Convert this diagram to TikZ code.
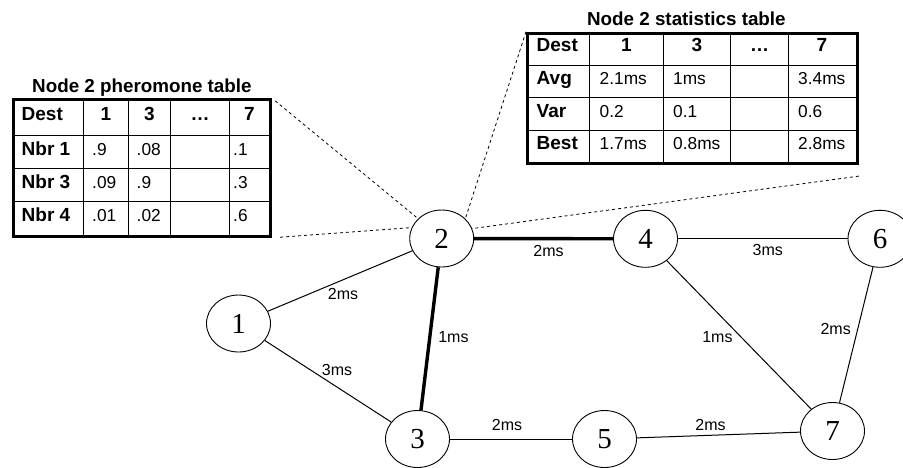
\documentclass[tikz,border=0pt]{standalone}
\usepackage{fontspec}
\setmainfont{Liberation Sans}
\newfontfamily\numfont{Liberation Serif}
\usetikzlibrary{positioning, shapes.geometric}

\begin{document}
\begin{tikzpicture}[x=1pt, y=-1pt,
  router/.style={draw, ellipse, line width=0.9pt, minimum width=64pt, minimum height=57pt, inner sep=0pt, font=\numfont\fontsize{29}{31}\selectfont},
  link/.style={line width=1pt},
  busy/.style={line width=3.4pt},
  delay/.style={font=\fontsize{16}{18}\selectfont, inner sep=2pt, text height=0.72em, text depth=0pt},
  tframe/.style={draw, line width=2.8pt, inner sep=0pt, anchor=north west},
  rule/.style={line width=0.9pt},
  head/.style={font=\bfseries\fontsize{19}{21}\selectfont, inner sep=1pt, text height=0.72em, text depth=0pt},
  entry/.style={font=\fontsize{17.3}{19}\selectfont, inner sep=1pt, text height=0.72em, text depth=0pt, anchor=west},
  ttl/.style={font=\bfseries\fontsize{18.8}{21}\selectfont, inner sep=1pt, text height=0.72em, text depth=0pt},
  zoomline/.style={line width=0.8pt, dash pattern=on 3pt off 3pt}
]
\useasboundingbox (0,0) rectangle (903,467);

% routers
\node[router] (n1) at (238.5,323.5) {1};
\node[router] (n2) at (441.7,238.5) {2};
\node[router] (n3) at (417.5,439) {3};
\node[router] (n4) at (645.5,238.8) {4};
\node[router] (n5) at (604.5,439) {5};
\node[router] (n6) at (880,238.8) {6};
\node[router] (n7) at (832.5,431) {7};

% links with delays
\draw[link] (n1) -- (n2) node[delay, midway, below=9pt, xshift=3pt] {2ms};
\draw[link] (n1) -- (n3) node[delay, midway, above=3pt, xshift=9pt] {3ms};
\draw[busy] (n2) -- (n3) node[delay, midway, right=5pt] {1ms};
\draw[busy] (n2) -- (n4) node[delay, midway, below=7pt, xshift=5pt] {2ms};
\draw[link] (n4) -- (n6) node[delay, midway, below=7pt, xshift=5pt] {3ms};
\draw[link] (n4) -- (n7) node[delay, midway, left=4pt, yshift=-4pt] {1ms};
\draw[link] (n6) -- (n7) node[delay, midway, left=3pt, yshift=4pt] {2ms};
\draw[link] (n3) -- (n5) node[delay, midway, above=6pt, xshift=-4pt] {2ms};
\draw[link] (n5) -- (n7) node[delay, midway, above=2pt, xshift=-8pt] {2ms};

% pheromone table
\foreach \x in {83.3,128.3,170.7,229.3} \draw[rule] (\x,98.3) -- (\x,235);
\foreach \y in {135,168.3,201.7} \draw[rule] (11.7,\y) -- (269.3,\y);
\node[tframe, minimum width=257.6pt, minimum height=136.7pt] (phero) at (11.7,98.3) {};
\node[ttl, above=5pt of phero] (phero-title) {Node 2 pheromone table};
\node[head, anchor=west] (ph-dest) at (20.5,116.7) {Dest};
\foreach \t/\x [count=\i] in {1/105.8, 3/149.5, …/200, 7/249.3}
  \node[head] (ph-h\i) at (\x,116.7) {\t};
\foreach \lab/\a/\b/\c [count=\r] in {Nbr 1/.9/.08/.1, Nbr 3/.09/.9/.3, Nbr 4/.01/.02/.6} {
  \node[head, anchor=west] (ph-r\r) at (20.5,{151.7+33.3*(\r-1)}) {\lab};
  \node[entry] (ph-\r-a) at (91,{151.7+33.3*(\r-1)}) {\a};
  \node[entry] (ph-\r-b) at (135.5,{151.7+33.3*(\r-1)}) {\b};
  \node[entry] (ph-\r-c) at (232,{151.7+33.3*(\r-1)}) {\c};
}

% statistics table
\foreach \x in {589.3,663.3,730.7,788.3} \draw[rule] (\x,31.7) -- (\x,162.3);
\foreach \y in {65,97.7,130} \draw[rule] (526,\y) -- (856,\y);
\node[tframe, minimum width=330pt, minimum height=130.6pt] (stats) at (526,31.7) {};
\node[ttl, above=5pt of stats, xshift=-6pt] (stats-title) {Node 2 statistics table};
\node[head, anchor=west] (st-dest) at (535.5,48.3) {Dest};
\foreach \t/\x [count=\i] in {1/626.3, 3/697, …/759.5, 7/822}
  \node[head] (st-h\i) at (\x,48.3) {\t};
\foreach \lab/\a/\b/\c [count=\r] in {Avg/2.1ms/1ms/3.4ms, Var/0.2/0.1/0.6, Best/1.7ms/0.8ms/2.8ms} {
  \node[head, anchor=west] (st-r\r) at (535.5,{81.3+32.45*(\r-1)}) {\lab};
  \node[entry] (st-\r-a) at (598.5,{81.3+32.45*(\r-1)}) {\a};
  \node[entry] (st-\r-b) at (672,{81.3+32.45*(\r-1)}) {\b};
  \node[entry] (st-\r-c) at (797,{81.3+32.45*(\r-1)}) {\c};
}

% tables blown up from node 2
\coordinate (statsfoot) at ([yshift=-11pt]stats.south east);
\draw[zoomline, shorten <=4pt] (phero.north east) -- (n2.140);
\draw[zoomline, shorten <=8pt] (phero.south east) -- (n2.160);
\draw[zoomline] (stats.north west) -- (n2.40);
\draw[zoomline] (statsfoot) -- (n2.18);
\end{tikzpicture}
\end{document}
